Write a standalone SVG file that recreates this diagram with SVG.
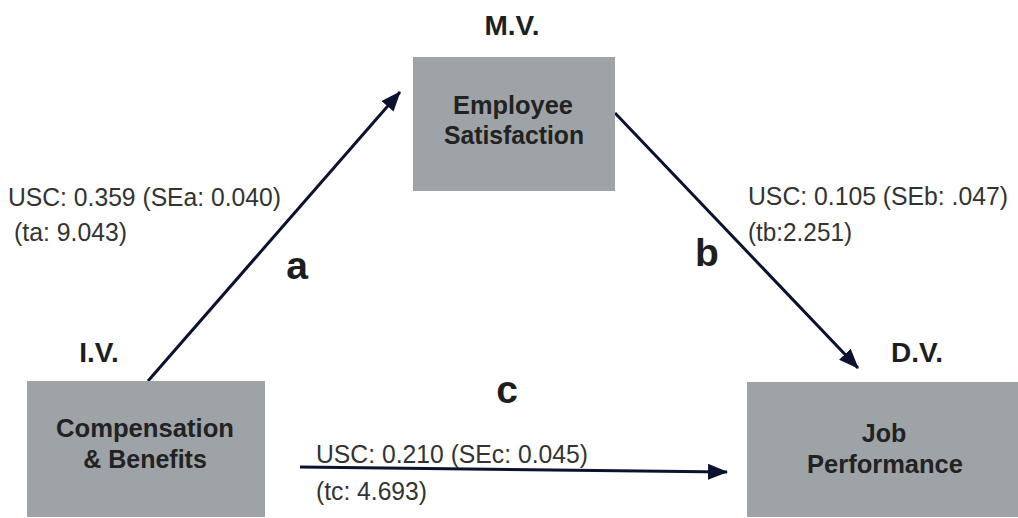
<svg xmlns="http://www.w3.org/2000/svg" width="1018" height="518" viewBox="0 0 1018 518">
<style>
.box{fill:#9ea3a7}
.nt{font-family:"Liberation Sans",Arial,sans-serif;font-weight:bold;font-size:25px;fill:#222;text-anchor:middle}
.hd{font-family:"Liberation Sans",Arial,sans-serif;font-weight:bold;font-size:28px;fill:#1e1e1e;text-anchor:middle}
.el{font-family:"Liberation Sans",Arial,sans-serif;font-size:25px;fill:#333}
.ltr{font-family:"Liberation Sans",Arial,sans-serif;font-weight:bold;font-size:39px;fill:#1e1e1e;text-anchor:middle}
.cn{stroke:#0b1230;stroke-width:3;fill:none;marker-end:url(#ah)}
</style>
<defs>
<marker id="ah" markerUnits="userSpaceOnUse" markerWidth="20" markerHeight="16" viewBox="0 0 20 16" refX="19" refY="8" orient="auto">
<path d="M0,0 L20,8 L0,16 z" fill="#0b1230"/>
</marker>
</defs>
<rect width="1018" height="518" fill="#fff"/>
<g id="connectors">
<line class="cn" x1="148" y1="381" x2="400" y2="92"/>
<line class="cn" x1="615" y1="113" x2="858" y2="368"/>
<line class="cn" x1="300" y1="467" x2="727" y2="472"/>
</g>
<g id="node-mv">
<text class="hd" x="512" y="35">M.V.</text>
<rect class="box" x="413" y="57" width="202" height="134"/>
<text class="nt" x="513" y="114" textLength="120" lengthAdjust="spacingAndGlyphs">Employee</text>
<text class="nt" x="514" y="144" textLength="140" lengthAdjust="spacingAndGlyphs">Satisfaction</text>
</g>
<g id="node-iv">
<text class="hd" x="99" y="362">I.V.</text>
<rect class="box" x="27" y="381" width="238" height="136"/>
<text class="nt" x="145" y="437" textLength="178" lengthAdjust="spacingAndGlyphs">Compensation</text>
<text class="nt" x="145" y="468">&amp; Benefits</text>
</g>
<g id="node-dv">
<text class="hd" x="917" y="362">D.V.</text>
<rect class="box" x="747" y="382" width="271" height="135"/>
<text class="nt" x="884" y="442">Job</text>
<text class="nt" x="885" y="473" textLength="156" lengthAdjust="spacingAndGlyphs">Performance</text>
</g>
<g id="labels">
<text class="el" x="8" y="206" textLength="273" lengthAdjust="spacingAndGlyphs">USC: 0.359 (SEa: 0.040)</text>
<text class="el" x="14" y="241" textLength="113" lengthAdjust="spacingAndGlyphs">(ta: 9.043)</text>
<text class="ltr" x="297" y="279">a</text>
<text class="el" x="748" y="205" textLength="260" lengthAdjust="spacingAndGlyphs">USC: 0.105 (SEb: .047)</text>
<text class="el" x="748" y="241" textLength="104" lengthAdjust="spacingAndGlyphs">(tb:2.251)</text>
<text class="ltr" x="707" y="266">b</text>
<text class="ltr" x="507" y="403">c</text>
<text class="el" x="316" y="463" textLength="272" lengthAdjust="spacingAndGlyphs">USC: 0.210 (SEc: 0.045)</text>
<text class="el" x="316" y="500" textLength="111" lengthAdjust="spacingAndGlyphs">(tc: 4.693)</text>
</g>
</svg>
